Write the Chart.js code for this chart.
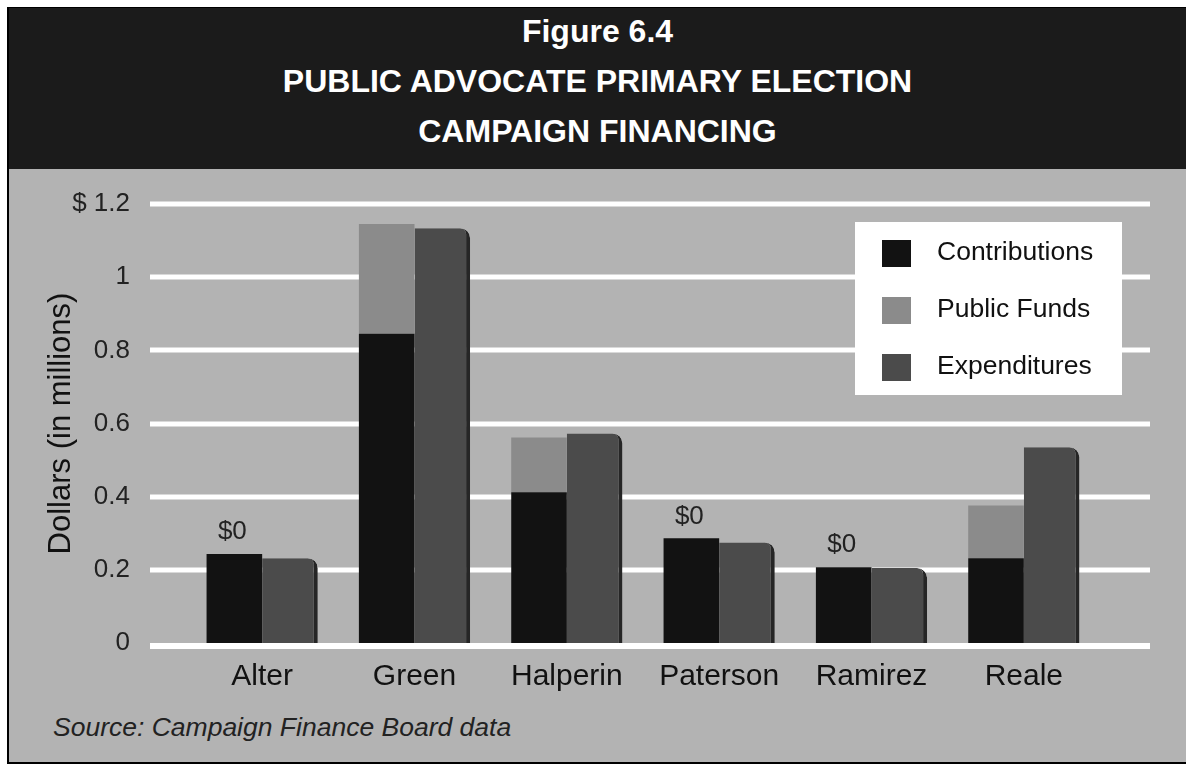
<!DOCTYPE html>
<html lang="en">
<head>
    <meta charset="UTF-8">
    <title>Public Advocate Primary Election Campaign Financing</title>
    <script src="https://cdn.jsdelivr.net/npm/chart.js"></script>
    <style>
        body { margin: 0; width: 1186px; height: 768px; overflow: hidden; background: #fff; position: relative; font-family: 'Liberation Sans', Arial, sans-serif; }
        #frame { position: absolute; left: 7px; top: 7px; width: 1179px; height: 757px; border-left: 2px solid #000; border-top: 1px solid #000; border-bottom: 2px solid #000; background: #b3b3b3; box-sizing: border-box; }
        #banner { position: absolute; left: 0; top: 0; right: 0; height: 161px; background: #1b1b1b; color: #fff; text-align: center; font-weight: bold; font-size: 32px; line-height: 50px; box-sizing: border-box; }
        #banner div { margin-top: -2px; }
        #source { position: absolute; left: 53px; top: 712px; font-style: italic; font-size: 26.5px; line-height: 30px; color: #222; }
        #wrap { position: absolute; left: 0; top: 0; width: 1186px; height: 768px; }
    </style>
</head>
<body>
    <div id="frame">
        <div id="banner">
            <div>Figure 6.4<br>PUBLIC ADVOCATE PRIMARY ELECTION<br>CAMPAIGN FINANCING</div>
        </div>
    </div>
    <div id="source">Source: Campaign Finance Board data</div>
    <div id="wrap"><canvas id="chart" width="1186" height="768"></canvas></div>

    <script>
        // values in millions of dollars
        const candidates = ['Alter', 'Green', 'Halperin', 'Paterson', 'Ramirez', 'Reale'];
        const contributions = [0.243, 0.845, 0.412, 0.286, 0.207, 0.232];
        const publicFunds = [0, 0.30, 0.15, 0, 0, 0.144];
        const expenditures = [0.232, 1.134, 0.573, 0.275, 0.205, 0.535];
        const yTickLabels = ['0', '0.2', '0.4', '0.6', '0.8', '1', '$ 1.2'];

        const FONT = "'Liberation Sans', Arial, sans-serif";

        // white horizontal rules behind the bars
        const whiteGrid = {
            id: 'whiteGrid',
            beforeDatasetsDraw(chart) {
                const ctx = chart.ctx;
                const y = chart.scales.y;
                ctx.save();
                ctx.strokeStyle = '#ffffff';
                y.ticks.forEach((t, i) => {
                    const py = Math.round(y.getPixelForValue(t.value)) + (i === 0 ? 3 : 0);
                    ctx.lineWidth = i === 0 ? 6 : 5;
                    ctx.beginPath();
                    ctx.moveTo(150, py);
                    ctx.lineTo(1150, py);
                    ctx.stroke();
                });
                ctx.restore();
            }
        };

        // "$0" over candidates who took no public funds
        const zeroLabels = {
            id: 'zeroLabels',
            afterDatasetsDraw(chart) {
                const ctx = chart.ctx;
                const bars = chart.getDatasetMeta(0).data;
                ctx.save();
                ctx.font = '26px ' + FONT;
                ctx.fillStyle = '#222';
                ctx.textAlign = 'center';
                ctx.textBaseline = 'middle';
                publicFunds.forEach((v, i) => {
                    if (v === 0) ctx.fillText('$0', bars[i].x - 2, bars[i].y - 22);
                });
                ctx.restore();
            }
        };

        // boxed legend in the upper right
        const boxLegend = {
            id: 'boxLegend',
            afterDraw(chart) {
                const ctx = chart.ctx;
                ctx.save();
                ctx.fillStyle = '#ffffff';
                ctx.fillRect(855, 222, 267, 173);
                ctx.font = '26.5px ' + FONT;
                ctx.textBaseline = 'middle';
                chart.data.datasets.forEach((ds, k) => {
                    const cy = 253 + k * 57;
                    ctx.fillStyle = ds.backgroundColor;
                    ctx.fillRect(882, cy - 13, 29, 27);
                    ctx.fillStyle = '#111';
                    ctx.fillText(ds.label, 937, cy);
                });
                ctx.restore();
            }
        };

        new Chart(document.getElementById('chart'), {
            type: 'bar',
            data: {
                labels: candidates,
                datasets: [{
                    label: 'Contributions',
                    data: contributions,
                    backgroundColor: '#121212',
                    stack: 'raised'
                }, {
                    label: 'Public Funds',
                    data: publicFunds,
                    backgroundColor: '#8b8b8b',
                    stack: 'raised'
                }, {
                    label: 'Expenditures',
                    data: expenditures,
                    backgroundColor: '#4b4b4b',
                    borderColor: '#262626',
                    borderWidth: { top: 0, left: 0, bottom: 0, right: 4 },
                    borderRadius: { topRight: 10 },
                    borderSkipped: false,
                    stack: 'spent'
                }]
            },
            options: {
                responsive: false,
                animation: false,
                layout: { padding: { left: 0, top: 204, right: 86, bottom: 65 } },
                datasets: {
                    bar: { categoryPercentage: 0.73, barPercentage: 1.0 }
                },
                plugins: {
                    legend: { display: false },
                    tooltip: { enabled: false }
                },
                scales: {
                    x: {
                        stacked: true,
                        grid: { display: false, drawTicks: false },
                        border: { display: false },
                        ticks: { color: '#111', font: { family: FONT, size: 30 }, padding: 16 },
                        afterFit(scale) { scale.height = 60; }
                    },
                    y: {
                        stacked: true,
                        min: 0,
                        max: 1.2,
                        grid: { display: false, drawTicks: false },
                        border: { display: false },
                        ticks: {
                            stepSize: 0.2,
                            color: '#222',
                            font: { family: FONT, size: 26 },
                            padding: 56,
                            callback: (v, i) => yTickLabels[i]
                        },
                        title: {
                            display: true,
                            text: 'Dollars (in millions)',
                            color: '#111',
                            font: { family: FONT, size: 31 },
                            padding: { top: 43, bottom: 0 }
                        },
                        afterFit(scale) { scale.width = 186; }
                    }
                }
            },
            plugins: [whiteGrid, zeroLabels, boxLegend]
        });
    </script>
</body>
</html>
